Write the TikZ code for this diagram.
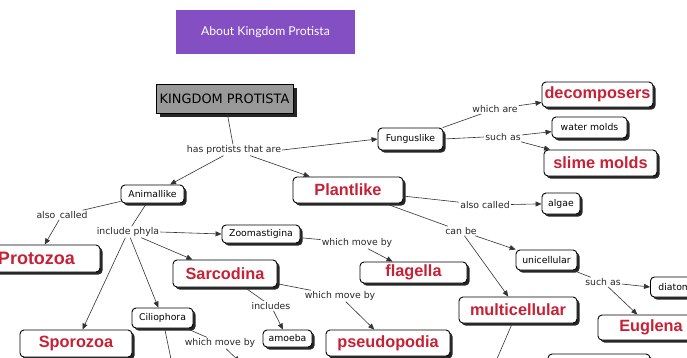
\documentclass[tikz,border=0pt]{standalone}
\usepackage{fontspec}
\setmainfont{DejaVu Sans}
\newfontfamily\labf{DejaVu Sans}
\newfontfamily\arialf{Liberation Sans}
\newfontfamily\titlef{Lato}
\usetikzlibrary{shadows,arrows.meta}
\definecolor{conred}{RGB}{200,32,52}
\definecolor{titlepurple}{RGB}{133,79,196}
\begin{document}
\begin{tikzpicture}[x=1pt,y=-1pt,
  sbox/.style={draw=black, rounded corners=4pt, fill=white, line width=0.9pt,
    drop shadow={shadow xshift=2.5pt, shadow yshift=-2.5pt, fill=black!85, opacity=1},
    inner sep=0pt, align=center, font=\labf\fontsize{9.3}{11}\selectfont},
  rbox/.style={sbox, text=conred, font=\arialf\bfseries\fontsize{16.3}{18}\selectfont},
  lbl/.style={inner sep=1pt, font=\labf\fontsize{9.3}{11}\selectfont, text=black!85},
  conn/.style={draw=black!80, line width=0.6pt},
  arr/.style={conn, -{Triangle[length=6pt,width=5pt]}}
]
\useasboundingbox (0,0) rectangle (687,357);
\fill[white] (0,0) rectangle (687,357);
\clip (0,0) rectangle (687,357);

% title
\node[fill=titlepurple, minimum width=179pt, minimum height=44pt, inner sep=0pt,
  text=white, font=\titlef\fontsize{12.2}{14}\selectfont] (title) at (265.5,32) {About Kingdom Protista};

% root
\node[draw=black, line width=0.8pt, fill=black!40, minimum width=137pt, minimum height=29pt, inner sep=0pt,
  drop shadow={shadow xshift=3.5pt, shadow yshift=-3.5pt, fill=black!85, opacity=1},
  font=\labf\fontsize{12.9}{14}\selectfont] (kp) at (224.5,98.5) {KINGDOM PROTISTA};

% first level
\node[lbl] (has) at (234,150) {has protists that are};
\node[sbox, minimum width=65pt, minimum height=22pt] (fung) at (410.5,139) {Funguslike};
\node[sbox, minimum width=63pt, minimum height=18pt] (anim) at (152.5,194) {Animallike};
\node[rbox, minimum width=110pt, minimum height=26pt] (plant) at (348,190) {Plantlike};

% funguslike branch
\node[lbl] (whichare) at (495,109) {which are};
\node[rbox, minimum width=111pt, minimum height=25pt] (decomp) at (597.5,94.5) {decomposers};
\node[lbl] (suchasA) at (503,137) {such as};
\node[sbox, minimum width=75pt, minimum height=21pt] (water) at (589.5,127.5) {water molds};
\node[rbox, minimum width=113pt, minimum height=26pt] (slime) at (600.5,163) {slime molds};

% plantlike branch
\node[lbl] (alsoP) at (485,205) {also called};
\node[sbox, minimum width=38pt, minimum height=21pt] (algae) at (561,203.5) {algae};
\node[lbl] (canbe) at (461,231) {can be};
\node[sbox, minimum width=61pt, minimum height=20pt] (uni) at (546.5,260) {unicellular};
\node[lbl] (suchasB) at (603,282) {such as};
\node[sbox, anchor=west, minimum width=62pt, minimum height=20pt, text width=60pt, align=left] (diatoms) at (650,287) {\hspace*{7pt}diatoms};
\node[rbox, minimum width=106pt, minimum height=25pt] (euglena) at (651,327.5) {Euglena};
\node[rbox, minimum width=118pt, minimum height=26pt] (multi) at (518,310) {multicellular};
\node[sbox, minimum width=102pt, minimum height=26pt] (lowbox) at (599,367) {};
\coordinate (multiend) at (490,375);

% animallike branch
\node[lbl] (alsoA) at (62,215) {also\, called};
\node[rbox, minimum width=127pt, minimum height=27pt, font=\arialf\bfseries\fontsize{18}{20}\selectfont] (protozoa) at (36.5,258.5) {Protozoa};
\node[lbl] (phyla) at (128,232) {include phyla};
\node[sbox, minimum width=78pt, minimum height=18pt] (zoo) at (261,234) {Zoomastigina};
\node[lbl] (wmA) at (357,243) {which move by};
\node[rbox, minimum width=107pt, minimum height=21pt] (flag) at (413.5,272.5) {flagella};
\node[rbox, minimum width=104pt, minimum height=27pt] (sarc) at (225,273.5) {Sarcodina};
\node[lbl] (wmB) at (340,296) {which move by};
\node[rbox, minimum width=124pt, minimum height=26pt] (pseudo) at (388,343) {pseudopodia};
\node[lbl] (incA) at (271,306) {includes};
\node[sbox, minimum width=49pt, minimum height=17pt] (amoeba) at (287.5,338.5) {amoeba};
\node[sbox, minimum width=61pt, minimum height=20pt] (cilio) at (162.5,318) {Ciliophora};
\node[lbl] (wmC) at (220,343) {which move by};
\node[lbl] (incB) at (172,364) {includes};
\coordinate (wmCend) at (240,362);
\node[rbox, minimum width=112pt, minimum height=27pt] (sporo) at (76,343.5) {Sporozoa};

% connectors
\draw[conn] (kp) -- (has);
\draw[arr] (has) -- (anim);
\draw[arr] (has) -- (plant);
\draw[arr] (has.east) -- (fung.west);
\draw[conn] (fung) -- (whichare);
\draw[arr] (whichare) -- (decomp);
\draw[conn] (fung.east) -- (suchasA.west);
\draw[arr] (suchasA) -- (water);
\draw[arr] (suchasA) -- (slime);
\draw[conn] (plant) -- (alsoP);
\draw[arr] (alsoP) -- (algae);
\draw[conn] (plant) -- (canbe);
\draw[arr] (canbe) -- (uni);
\draw[arr] (canbe) -- (multi);
\draw[conn] (uni) -- (suchasB);
\draw[arr] (suchasB) -- (diatoms.west);
\draw[arr] (suchasB) -- (euglena);
\draw[conn] (multi) -- (multiend);
\draw[conn] (anim) -- (alsoA);
\draw[arr] (alsoA) -- (protozoa);
\draw[conn] (anim) -- (phyla);
\draw[arr] (phyla.east) -- (zoo.west);
\draw[arr] (phyla) -- (sarc);
\draw[arr] (phyla) -- (cilio);
\draw[arr] (phyla) -- (sporo);
\draw[conn] (zoo) -- (wmA);
\draw[arr] (wmA) -- (flag);
\draw[conn] (sarc) -- (wmB);
\draw[arr] (wmB) -- (pseudo);
\draw[conn] (sarc) -- (incA);
\draw[arr] (incA) -- (amoeba);
\draw[conn] (cilio) -- (wmC);
\draw[arr] (wmC) -- (wmCend);
\draw[conn] (cilio) -- (incB);
\end{tikzpicture}
\end{document}
